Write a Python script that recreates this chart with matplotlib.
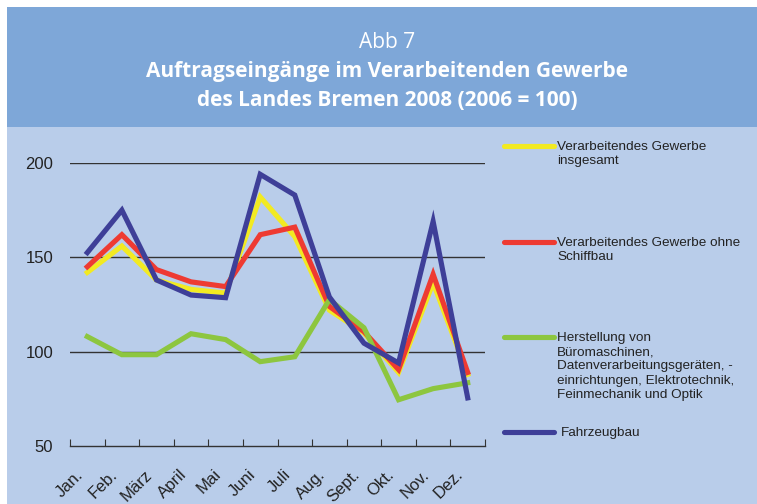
import numpy as np
import matplotlib.pyplot as plt
from matplotlib.patches import Rectangle

months = ['Jan.', 'Feb.', 'März', 'April', 'Mai', 'Juni', 'Juli', 'Aug.',
          'Sept.', 'Okt.', 'Nov.', 'Dez.']

gesamt = [142, 156, 138, 133, 131, 182, 161, 122, 110, 89, 136.5, 88]
ohne_schiffbau = [145, 162, 143.5, 137, 134.5, 162, 166, 124, 110.6, 90.5, 141, 89]
buero_elektro = [108, 98.4, 98.4, 109.5, 106.4, 94.7, 97.3, 127.6, 112.7, 74.5, 80.4, 83.5]
fahrzeugbau = [152.5, 175, 138, 130, 128.6, 194, 183, 129, 104.5, 94, 169, 75.5]

labels = ['Verarbeitendes Gewerbe\ninsgesamt',
          'Verarbeitendes Gewerbe ohne\nSchiffbau',
          'Herstellung von\nBüromaschinen,\nDatenverarbeitungsgeräten, -\n'
          'einrichtungen, Elektrotechnik,\nFeinmechanik und Optik',
          'Fahrzeugbau']
colors = ['#f2ea22', '#ee3a32', '#8dc63f', '#3e3f98']

W, H = 757, 504
fig = plt.figure(figsize=(W / 100, H / 100), dpi=100)
fig.patch.set_facecolor('white')

# body and header panels
fig.add_artist(Rectangle((7 / W, 0), 1, 1 - 7 / H, transform=fig.transFigure,
                         facecolor='#b9cdea', edgecolor='none', zorder=0))
fig.add_artist(Rectangle((7 / W, 1 - 127 / H), 1, 120 / H, transform=fig.transFigure,
                         facecolor='#7ea7d8', edgecolor='none', zorder=0))

tfont = ['Open Sans', 'DejaVu Sans']
cx = 387 / W
fig.text(cx, 1 - 42 / H, 'Abb 7', ha='center', va='center', color='white',
         fontsize=15, family=tfont)
fig.text(cx, 1 - 72 / H, 'Auftragseingänge im Verarbeitenden Gewerbe',
         ha='center', va='center', color='white', fontsize=15, fontweight='bold', family=tfont)
fig.text(cx, 1 - 100 / H, 'des Landes Bremen 2008 (2006 = 100)',
         ha='center', va='center', color='white', fontsize=15, fontweight='bold', family=tfont)

ax = fig.add_axes([70 / W, 1 - 446 / H, 415 / W, 283 / H])
ax.set_facecolor('none')
x = np.arange(len(months)) + 0.5
series = [gesamt, ohne_schiffbau, buero_elektro, fahrzeugbau]
order = [2, 0, 1, 3]
for i in order:
    ax.plot(x, series[i], color=colors[i], lw=3.7, solid_joinstyle='miter', zorder=3 + i)

ax.set_xlim(0, 12)
ax.set_ylim(50, 200)
ax.set_yticks([50, 100, 150, 200])
for yv in [100, 150, 200]:
    ax.axhline(yv, color='#333333', lw=1, zorder=1)
ax.set_xticks(np.arange(13))
ax.set_xticklabels([])
# month labels sit a little left of the slot centre, as in the original
ax.set_xticks(x - 0.35, minor=True)
ax.set_xticklabels(months, minor=True, rotation=45, ha='right', rotation_mode='anchor',
                   fontsize=12, family='Liberation Sans', color='#222222')
ax.tick_params(axis='x', which='major', direction='in', length=5, color='#333333')
ax.tick_params(axis='x', which='minor', length=0, pad=15)
ax.tick_params(axis='y', length=0, labelsize=12, pad=12, labelcolor='#222222')
for lab in ax.get_yticklabels():
    lab.set_family('Liberation Sans')
for s in ['top', 'right', 'left']:
    ax.spines[s].set_visible(False)
ax.spines['bottom'].set_color('#333333')
ax.spines['bottom'].set_linewidth(1)

# legend drawn by hand
leg_y = [146, 242, 337, 432]
for i in range(4):
    yy = 1 - leg_y[i] / H
    fig.add_artist(plt.Line2D([504 / W, 554 / W], [yy, yy], transform=fig.transFigure,
                              color=colors[i], lw=3.7, solid_capstyle='round'))
    fig.text(557 / W if i < 3 else 561 / W, yy + 5 / H, labels[i], ha='left', va='top',
             fontsize=9.7, family='Liberation Sans', color='#222222', linespacing=1.25)

fig.savefig('out.png', dpi=100)
